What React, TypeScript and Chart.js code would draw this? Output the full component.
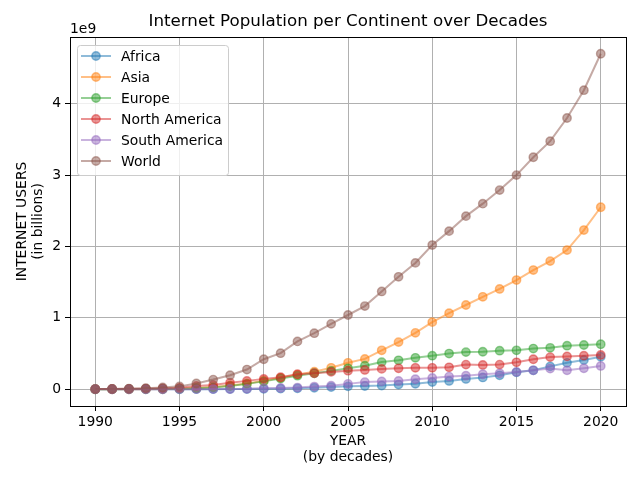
import React, { useEffect, useRef } from "react";
import { Chart, registerables } from "chart.js";

Chart.register(...registerables);

const years = [
  1990, 1991, 1992, 1993, 1994, 1995, 1996, 1997, 1998, 1999, 2000, 2001, 2002, 2003, 2004, 2005,
  2006, 2007, 2008, 2009, 2010, 2011, 2012, 2013, 2014, 2015, 2016, 2017, 2018, 2019, 2020,
];

// values in billions (axis offset label "1e9")
const africa = [
  0, 0, 0, 0, 0, 0, 0.001, 0.001, 0.002, 0.002, 0.005, 0.008, 0.012, 0.02, 0.03, 0.04,
  0.045, 0.052, 0.065, 0.077, 0.1, 0.116, 0.144, 0.165, 0.195, 0.237, 0.265, 0.32, 0.37, 0.41, 0.455,
];
const asia = [
  0, 0, 0, 0.001, 0.002, 0.008, 0.018, 0.032, 0.052, 0.08, 0.12, 0.16, 0.205, 0.245, 0.3, 0.37,
  0.425, 0.545, 0.66, 0.79, 0.94, 1.065, 1.18, 1.295, 1.405, 1.53, 1.67, 1.795, 1.95, 2.23, 2.55,
];
const europe = [
  0, 0.001, 0.002, 0.003, 0.005, 0.008, 0.014, 0.023, 0.045, 0.075, 0.11, 0.15, 0.19, 0.224, 0.257, 0.293,
  0.33, 0.38, 0.405, 0.44, 0.47, 0.5, 0.52, 0.525, 0.54, 0.545, 0.57, 0.58, 0.61, 0.62, 0.63,
];
const northAmerica = [
  0.002, 0.003, 0.005, 0.008, 0.012, 0.02, 0.045, 0.06, 0.09, 0.117, 0.145, 0.168, 0.21, 0.224, 0.243, 0.26,
  0.27, 0.285, 0.293, 0.3, 0.3, 0.307, 0.345, 0.34, 0.345, 0.377, 0.42, 0.45, 0.46, 0.47, 0.48,
];
const southAmerica = [
  0, 0, 0, 0, 0, 0.001, 0.001, 0.002, 0.003, 0.005, 0.014, 0.018, 0.023, 0.037, 0.05, 0.075,
  0.1, 0.11, 0.116, 0.14, 0.158, 0.177, 0.19, 0.21, 0.223, 0.242, 0.265, 0.29, 0.265, 0.293, 0.326,
];
const world = [
  0.002, 0.004, 0.008, 0.015, 0.025, 0.04, 0.08, 0.135, 0.196, 0.276, 0.42, 0.505, 0.67, 0.785, 0.916, 1.04,
  1.165, 1.37, 1.575, 1.77, 2.02, 2.215, 2.425, 2.6, 2.79, 3.0, 3.25, 3.475, 3.8, 4.19, 4.7,
];

const seriesNames = ["Africa", "Asia", "Europe", "North America", "South America", "World"];
const seriesValues = [africa, asia, europe, northAmerica, southAmerica, world];
const seriesColors = ["31,119,180", "255,127,14", "44,160,44", "214,39,40", "148,103,189", "140,86,75"];

const xTicks = [1990, 1995, 2000, 2005, 2010, 2015, 2020];
const yTicks = [0, 1, 2, 3, 4];

const TITLE = "Internet Population per Continent over Decades";
const Y_TITLE = ["INTERNET USERS", "(in billions)"];
const X_TITLE = ["YEAR", "(by decades)"];
const OFFSET_LABEL = "1e9";

const FONT = "'DejaVu Sans', sans-serif";

const overlayPlugin = {
  id: "overlay",
  afterDraw(chart: any) {
    const ctx = chart.ctx as CanvasRenderingContext2D;
    const a = chart.chartArea;
    ctx.save();
    // spines
    ctx.strokeStyle = "#000";
    ctx.lineWidth = 1;
    ctx.strokeRect(Math.round(a.left) + 0.5, Math.round(a.top) + 0.5, Math.round(a.right - a.left), Math.round(a.bottom - a.top));

    ctx.fillStyle = "#000";
    // title
    ctx.font = `16.7px ${FONT}`;
    ctx.textAlign = "center";
    ctx.textBaseline = "middle";
    ctx.fillText(TITLE, (a.left + a.right) / 2, 22);

    // offset label
    ctx.font = `13.9px ${FONT}`;
    ctx.textAlign = "left";
    ctx.textBaseline = "alphabetic";
    ctx.fillText(OFFSET_LABEL, a.left, a.top - 4);

    // x title
    ctx.textAlign = "center";
    ctx.textBaseline = "middle";
    ctx.fillText(X_TITLE[0], (a.left + a.right) / 2, 441);
    ctx.fillText(X_TITLE[1], (a.left + a.right) / 2, 457);

    // y title
    ctx.save();
    ctx.translate(22, (a.top + a.bottom) / 2);
    ctx.rotate(-Math.PI / 2);
    ctx.fillText(Y_TITLE[0], 0, 0);
    ctx.fillText(Y_TITLE[1], 0, 16);
    ctx.restore();

    // legend
    const bx = a.left + 7;
    const by = a.top + 8;
    const bw = 151;
    const bh = 130;
    ctx.beginPath();
    (ctx as any).roundRect(bx + 0.5, by + 0.5, bw, bh, 3);
    ctx.fillStyle = "rgba(255,255,255,0.8)";
    ctx.fill();
    ctx.strokeStyle = "#cccccc";
    ctx.lineWidth = 1;
    ctx.stroke();

    ctx.font = `13.9px ${FONT}`;
    ctx.textAlign = "left";
    ctx.textBaseline = "middle";
    seriesNames.forEach((name, i) => {
      const y = by + 11 + i * 21;
      const c = seriesColors[i];
      ctx.strokeStyle = `rgba(${c},0.5)`;
      ctx.lineWidth = 2;
      ctx.beginPath();
      ctx.moveTo(bx + 4, y);
      ctx.lineTo(bx + 34, y);
      ctx.stroke();
      ctx.beginPath();
      ctx.arc(bx + 19, y, 4.2, 0, Math.PI * 2);
      ctx.fillStyle = `rgba(${c},0.5)`;
      ctx.fill();
      ctx.lineWidth = 1.4;
      ctx.stroke();
      ctx.fillStyle = "#000";
      ctx.fillText(name, bx + 44, y + 1);
    });
    ctx.restore();
  },
};

export default function App() {
  const ref = useRef<HTMLCanvasElement | null>(null);

  useEffect(() => {
    document.body.style.margin = "0";
    const canvas = ref.current;
    if (!canvas) return;
    const n = seriesNames.length;
    const chart = new Chart(canvas, {
      type: "line",
      data: {
        datasets: seriesNames.map((name, i) => ({
          label: name,
          data: years.map((yr, j) => ({ x: yr, y: seriesValues[i][j] })),
          borderColor: `rgba(${seriesColors[i]},0.5)`,
          backgroundColor: `rgba(${seriesColors[i]},0.5)`,
          pointBackgroundColor: `rgba(${seriesColors[i]},0.5)`,
          pointBorderColor: `rgba(${seriesColors[i]},0.5)`,
          borderWidth: 2,
          pointRadius: 4.2,
          pointBorderWidth: 1.4,
          tension: 0,
          fill: false,
          order: n - i,
        })),
      },
      options: {
        responsive: false,
        animation: false,
        devicePixelRatio: 1,
        layout: { padding: { top: 37, right: 14, left: 0, bottom: 0 } },
        plugins: {
          legend: { display: false },
          tooltip: { enabled: false },
          title: { display: false },
        },
        scales: {
          x: {
            type: "linear",
            min: 1988.5,
            max: 2021.5,
            afterBuildTicks: (s: any) => {
              s.ticks = xTicks.map((v) => ({ value: v }));
            },
            afterFit: (s: any) => {
              s.height = 74;
            },
            ticks: {
              font: { family: FONT, size: 13.9 },
              color: "#000",
              padding: 3,
              maxRotation: 0,
              autoSkip: false,
              callback: (v: any) => String(v),
            },
            grid: { color: "#b0b0b0", lineWidth: 1, tickColor: "#000", tickLength: 5, drawTicks: true },
            border: { display: false },
          },
          y: {
            type: "linear",
            min: -0.235,
            max: 4.935,
            afterBuildTicks: (s: any) => {
              s.ticks = yTicks.map((v) => ({ value: v }));
            },
            afterFit: (s: any) => {
              s.width = 70;
            },
            ticks: {
              font: { family: FONT, size: 13.9 },
              color: "#000",
              padding: 4,
              autoSkip: false,
              callback: (v: any) => String(v),
            },
            grid: { color: "#b0b0b0", lineWidth: 1, tickColor: "#000", tickLength: 5, drawTicks: true },
            border: { display: false },
          },
        },
      },
      plugins: [overlayPlugin],
    } as any);
    return () => chart.destroy();
  }, []);

  return <canvas ref={ref} width={640} height={480} style={{ display: "block", width: 640, height: 480 }} />;
}
